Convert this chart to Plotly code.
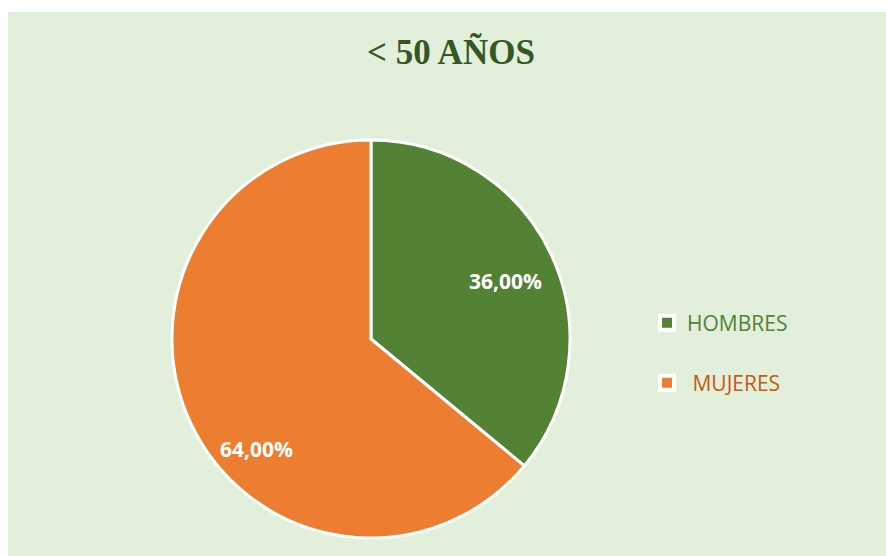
import plotly.graph_objects as go

categories = ["HOMBRES", "MUJERES"]
values = [36.0, 64.0]
slice_colors = ["#548235", "#ED7D31"]
legend_text_colors = ["#548235", "#C55A11"]
title_text = "&lt; 50 AÑOS"

# body margin is removed, so positions below are screenshot pixels
W, H = 886, 556
ML, MT = 8, 12
PW, PH = W - ML, H - MT

def px_x(x):
    return (x - ML) / PW

def px_y(y):
    return (H - y) / PH

# label anchor positions (screen px), layout only
label_pos = [(505, 281), (256, 449)]

labels_txt = [f"{v:.2f}".replace(".", ",") + "%" for v in values]

fig = go.Figure()
fig.add_trace(go.Pie(
    labels=categories,
    values=values,
    text=labels_txt,
    textinfo="none",
    marker=dict(colors=slice_colors, line=dict(color="white", width=3)),
    sort=False,
    direction="clockwise",
    rotation=0,
    showlegend=False,
    hoverinfo="label+percent",
    domain=dict(x=[px_x(172), px_x(570)], y=[px_y(538), px_y(140)]),
))

for txt, (lx, ly) in zip(labels_txt, label_pos):
    fig.add_annotation(
        text="<b>" + txt + "</b>", x=px_x(lx), y=px_y(ly), xref="paper", yref="paper",
        xanchor="center", yanchor="middle", showarrow=False,
        font=dict(family="Open Sans", size=21, color="white"),
    )

legend_names = ["legend", "legend2"]
for i, (cat, col) in enumerate(zip(categories, slice_colors)):
    fig.add_trace(go.Scatter(
        x=[None], y=[None], mode="markers", name=(" " if i == 1 else "") + cat,
        marker=dict(symbol="square", size=14, color=col, line=dict(color="white", width=4)),
        legend=legend_names[i], showlegend=True, hoverinfo="skip",
    ))

legend_common = dict(
    xanchor="left", yanchor="middle", bgcolor="rgba(0,0,0,0)", borderwidth=0,
    itemclick=False, itemdoubleclick=False,
)
fig.update_layout(
    width=W, height=H,
    margin=dict(l=ML, t=MT, r=0, b=0, pad=0),
    paper_bgcolor="white",
    plot_bgcolor="#E2EFDA",
    xaxis=dict(visible=False, range=[0, 1]),
    yaxis=dict(visible=False, range=[0, 1]),
    title=dict(
        text="<b>" + title_text + "</b>",
        font=dict(family="Liberation Serif", size=35, color="#375623"),
        x=px_x(451), xanchor="center", xref="paper",
        y=1 - 52 / H, yanchor="middle", yref="container",
    ),
    legend=dict(x=px_x(647), y=px_y(323),
                font=dict(family="Open Sans", size=21, color=legend_text_colors[0]),
                **legend_common),
    legend2=dict(x=px_x(647), y=px_y(383),
                 font=dict(family="Open Sans", size=21, color=legend_text_colors[1]),
                 **legend_common),
)

fig.write_html(
    "out.html",
    config={"displayModeBar": False},
    post_script=(
        "document.body.style.margin='0';"
        "document.documentElement.style.overflow='hidden';"
        "document.body.style.overflow='hidden';"
    ),
)
